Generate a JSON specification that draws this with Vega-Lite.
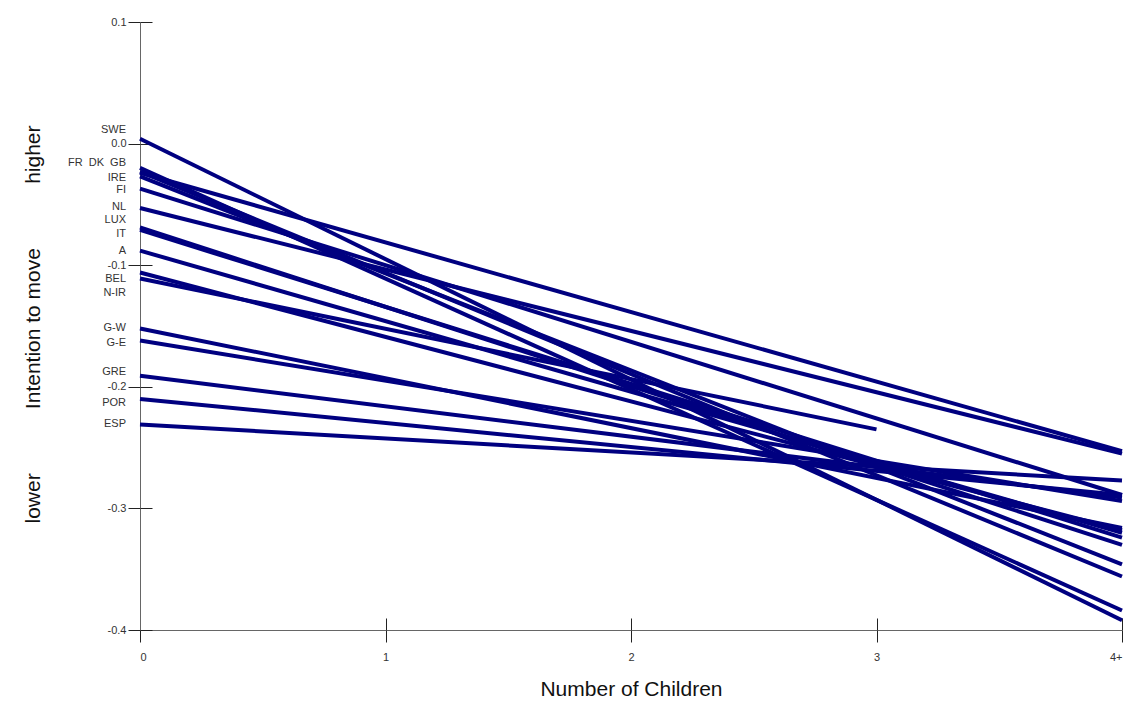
{
  "$schema": "https://vega.github.io/schema/vega-lite/v6.json",
  "width": 982,
  "height": 608,
  "autosize": "none",
  "padding": {"left": 140, "top": 22, "right": 21, "bottom": 78},
  "background": "white",
  "config": {
    "view": {"stroke": null},
    "axis": {
      "grid": false,
      "domainColor": "#666666",
      "tickColor": "#222222",
      "labelColor": "#333333",
      "labelFont": "Liberation Sans",
      "labelFontSize": 11,
      "titleFont": "Liberation Sans",
      "titleFontSize": 21,
      "titleFontWeight": "normal",
      "titleColor": "#111111"
    }
  },
  "datasets": {
    "lines": [
      {"country": "SWE", "children": 0, "value": 0.004}, {"country": "SWE", "children": 4, "value": -0.392},
      {"country": "FR", "children": 0, "value": -0.020}, {"country": "FR", "children": 4, "value": -0.384},
      {"country": "DK", "children": 0, "value": -0.023}, {"country": "DK", "children": 4, "value": -0.356},
      {"country": "GB", "children": 0, "value": -0.024}, {"country": "GB", "children": 4, "value": -0.253},
      {"country": "IRE", "children": 0, "value": -0.027}, {"country": "IRE", "children": 4, "value": -0.346},
      {"country": "FI", "children": 0, "value": -0.037}, {"country": "FI", "children": 4, "value": -0.289},
      {"country": "NL", "children": 0, "value": -0.053}, {"country": "NL", "children": 4, "value": -0.255},
      {"country": "LUX", "children": 0, "value": -0.069}, {"country": "LUX", "children": 4, "value": -0.330},
      {"country": "IT", "children": 0, "value": -0.071}, {"country": "IT", "children": 4, "value": -0.324},
      {"country": "A", "children": 0, "value": -0.088}, {"country": "A", "children": 4, "value": -0.320},
      {"country": "BEL", "children": 0, "value": -0.106}, {"country": "BEL", "children": 4, "value": -0.318},
      {"country": "N-IR", "children": 0, "value": -0.111}, {"country": "N-IR", "children": 3, "value": -0.235},
      {"country": "G-W", "children": 0, "value": -0.152}, {"country": "G-W", "children": 4, "value": -0.316},
      {"country": "G-E", "children": 0, "value": -0.162}, {"country": "G-E", "children": 4, "value": -0.294},
      {"country": "GRE", "children": 0, "value": -0.191}, {"country": "GRE", "children": 4, "value": -0.291},
      {"country": "POR", "children": 0, "value": -0.210}, {"country": "POR", "children": 4, "value": -0.289},
      {"country": "ESP", "children": 0, "value": -0.231}, {"country": "ESP", "children": 4, "value": -0.277}
    ],
    "labels": [
      {"label": "SWE", "children": 0, "value": 0.011},
      {"label": "FR\u00a0\u00a0DK\u00a0\u00a0GB", "children": 0, "value": -0.016},
      {"label": "IRE", "children": 0, "value": -0.028},
      {"label": "FI", "children": 0, "value": -0.038},
      {"label": "NL", "children": 0, "value": -0.052},
      {"label": "LUX", "children": 0, "value": -0.063},
      {"label": "IT", "children": 0, "value": -0.074},
      {"label": "A", "children": 0, "value": -0.088},
      {"label": "BEL", "children": 0, "value": -0.111},
      {"label": "N-IR", "children": 0, "value": -0.123},
      {"label": "G-W", "children": 0, "value": -0.152},
      {"label": "G-E", "children": 0, "value": -0.164},
      {"label": "GRE", "children": 0, "value": -0.188},
      {"label": "POR", "children": 0, "value": -0.213},
      {"label": "ESP", "children": 0, "value": -0.231}
    ]
  },
  "layer": [
    {
      "data": {"name": "lines"},
      "mark": {"type": "line", "color": "#000080", "strokeWidth": 4},
      "encoding": {
        "x": {
          "field": "children", "type": "quantitative",
          "scale": {"domain": [0, 4], "nice": false, "zero": false},
          "axis": {
            "orient": "bottom",
            "values": [0, 1, 2, 3, 4],
            "tickSize": 12,
            "labelPadding": 9,
            "labelExpr": "datum.value == 4 ? '4+' : datum.label",
            "title": "Number of Children",
            "titlePadding": 16
          }
        },
        "y": {
          "field": "value", "type": "quantitative",
          "scale": {"domain": [-0.4, 0.1], "nice": false, "zero": false},
          "axis": {
            "orient": "left",
            "values": [-0.4, -0.3, -0.2, -0.1, 0, 0.1],
            "format": ".1f",
            "labelExpr": "replace(datum.label, '\u2212', '-')",
            "tickSize": 12,
            "labelPadding": 2,
            "title": "lower\u00a0\u00a0\u00a0\u00a0\u00a0\u00a0\u00a0\u00a0\u00a0\u00a0\u00a0Intention to move\u00a0\u00a0\u00a0\u00a0\u00a0\u00a0\u00a0\u00a0\u00a0\u00a0\u00a0higher",
            "titleX": -107,
            "titleY": 302,
            "titleAngle": -90,
            "titleAlign": "center",
            "titleBaseline": "middle"
          }
        },
        "detail": {"field": "country"}
      }
    },
    {
      "data": {"name": "labels"},
      "mark": {"type": "text", "align": "right", "baseline": "middle", "dx": -14, "font": "Liberation Sans", "fontSize": 11, "color": "#333333"},
      "encoding": {
        "x": {
          "field": "children", "type": "quantitative",
          "axis": {"orient": "bottom", "values": [0, 1, 2, 3, 4], "tickSize": -12, "labels": false, "domain": false, "title": null}
        },
        "y": {
          "field": "value", "type": "quantitative",
          "axis": {"orient": "left", "values": [-0.4, -0.3, -0.2, -0.1, 0, 0.1], "tickSize": -12, "labels": false, "domain": false, "title": null}
        },
        "text": {"field": "label"}
      }
    }
  ],
  "resolve": {"axis": {"x": "independent", "y": "independent"}}
}
